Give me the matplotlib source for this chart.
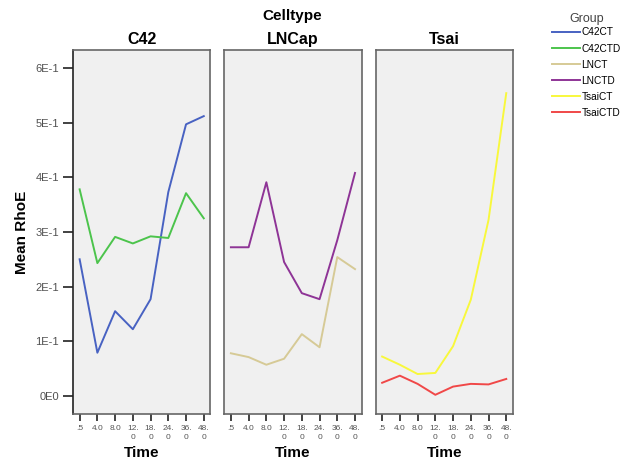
import matplotlib.pyplot as plt

# Etiquetas del eje x (tiempo) y valores medios de RhoE por grupo
time_labels = ['.5', '4.0', '8.0', '12.\n0', '18.\n0', '24.\n0', '36.\n0', '48.\n0']
celltypes = ['C42', 'LNCap', 'Tsai']
groups = ['C42CT', 'C42CTD', 'LNCT', 'LNCTD', 'TsaiCT', 'TsaiCTD']

c42ct = [0.250, 0.079, 0.155, 0.122, 0.177, 0.373, 0.497, 0.512]
c42ctd = [0.378, 0.243, 0.291, 0.279, 0.292, 0.289, 0.371, 0.325]
lnct = [0.078, 0.071, 0.057, 0.068, 0.113, 0.089, 0.254, 0.232]
lnctd = [0.272, 0.272, 0.391, 0.245, 0.188, 0.177, 0.285, 0.408]
tsaict = [0.072, 0.057, 0.040, 0.042, 0.091, 0.176, 0.322, 0.554]
tsaictd = [0.024, 0.037, 0.022, 0.002, 0.017, 0.022, 0.021, 0.031]

colores = {'C42CT': '#4862c2', 'C42CTD': '#4cc44c', 'LNCT': '#d6ca96',
           'LNCTD': '#8e3496', 'TsaiCT': '#f8f83c', 'TsaiCTD': '#f04848'}

paneles = {'C42': [('C42CT', c42ct), ('C42CTD', c42ctd)],
           'LNCap': [('LNCT', lnct), ('LNCTD', lnctd)],
           'Tsai': [('TsaiCT', tsaict), ('TsaiCTD', tsaictd)]}

plt.rcParams['font.family'] = ['Liberation Sans', 'DejaVu Sans']

fig, axes = plt.subplots(1, 3, figsize=(6.3, 4.63), dpi=100, sharey=True)
fig.subplots_adjust(left=0.116, right=0.814, bottom=0.106, top=0.892, wspace=0.102)

x = list(range(len(time_labels)))
handles = {}
for ax, ct in zip(axes, celltypes):
    ax.set_facecolor('#f0f0f0')
    for g, vals in paneles[ct]:
        ln, = ax.plot(x, vals, color=colores[g], lw=1.4)
        handles[g] = ln
    ax.set_xlim(-0.37, 7.37)
    ax.set_ylim(-0.033, 0.633)
    ax.set_xticks(x)
    ax.set_xticklabels(time_labels, fontsize=6, color='#555555', linespacing=1.3)
    ax.tick_params(axis='x', length=5, width=1.2, direction='out', color='#222222', pad=3)
    ax.set_title(ct, fontsize=11.5, fontweight='bold', pad=4)
    ax.set_xlabel('Time', fontsize=11, fontweight='bold', labelpad=4)
    for s in ax.spines.values():
        s.set_color('#666666')
        s.set_linewidth(1.2)

axes[0].set_yticks([0, 0.1, 0.2, 0.3, 0.4, 0.5, 0.6])
axes[0].set_yticklabels(['0E0', '1E-1', '2E-1', '3E-1', '4E-1', '5E-1', '6E-1'],
                        fontsize=8, color='#505050')
axes[0].tick_params(axis='y', length=7, width=1.2, color='#222222', pad=3)
axes[0].spines['left'].set_color('#222222')
for ax in axes[1:]:
    ax.tick_params(axis='y', left=False, labelleft=False)
axes[0].set_ylabel('Mean RhoE', fontsize=11, fontweight='bold', labelpad=5)

fig.text(0.464, 0.965, 'Celltype', ha='center', va='center', fontsize=11, fontweight='bold')

leg = fig.legend([handles[g] for g in groups], groups, loc='upper left',
                 bbox_to_anchor=(0.865, 0.988), frameon=False, fontsize=7.3,
                 title='Group', title_fontsize=9, handlelength=2.8,
                 handletextpad=0.1, labelspacing=0.6, borderpad=0.2)
leg.get_title().set_color('#444444')
leg._legend_box.sep = 2

plt.savefig('out.png', dpi=100)
